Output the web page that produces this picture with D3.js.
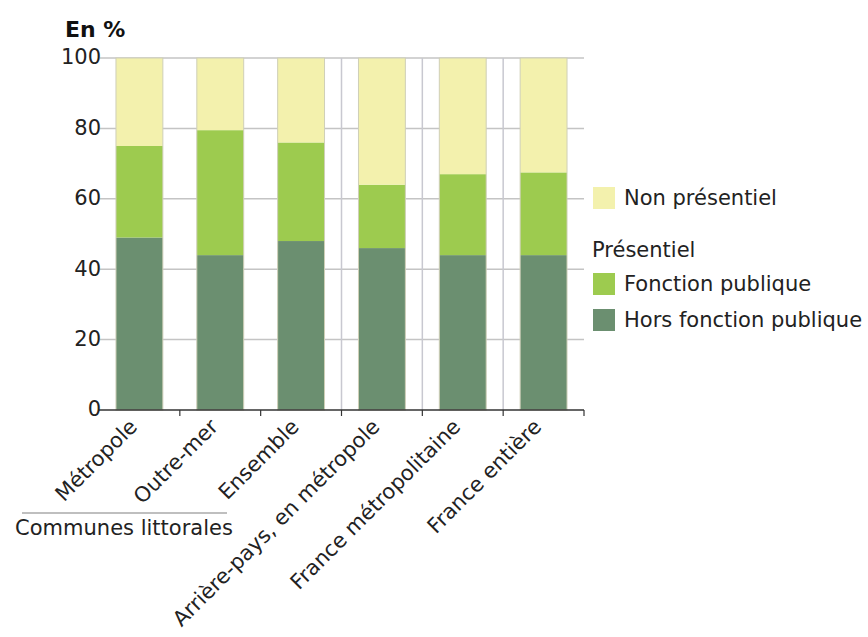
<!DOCTYPE html>
<head>
    <meta charset="utf-8">
    <script src="https://cdn.jsdelivr.net/npm/d3@7/dist/d3.min.js"></script>
    <style>
        body { margin: 0; background: #fff; }
        svg { display: block; font-family: "DejaVu Sans", Verdana, sans-serif; }
        .tick-label { font-size: 21px; fill: #222; }
        .legend { font-size: 21px; fill: #222; }
    </style>
</head>
<body>
    <script>
        // donnees (en %)
        var categories = ["Métropole", "Outre-mer", "Ensemble", "Arrière-pays, en métropole", "France métropolitaine", "France entière"];
        var horsFonctionPublique = [49, 44, 48, 46, 44, 44];
        var fonctionPublique = [26, 35.5, 28, 18, 23, 23.5];
        var nonPresentiel = [25, 20.5, 24, 36, 33, 32.5];
        var yTicks = [0, 20, 40, 60, 80, 100];

        var colors = {
            hors: "#6b8f70",
            fp: "#9dcb4f",
            non: "#f3f1ad"
        };

        var svg = d3.select("body").append("svg")
            .attr("width", 868)
            .attr("height", 637);

        var x = d3.scaleBand()
            .domain(categories)
            .range([99, 584])
            .paddingInner(0.42)
            .paddingOuter(0.21);

        var y = d3.scaleLinear()
            .domain([0, 100])
            .range([410, 58]);

        // grille horizontale
        svg.selectAll(".hgrid").data(yTicks.slice(1)).enter()
            .append("line")
            .attr("x1", 100).attr("x2", 584)
            .attr("y1", function (d) { return y(d); })
            .attr("y2", function (d) { return y(d); })
            .attr("stroke", "#c4c4c4").attr("stroke-width", 1.5);

        // separations verticales entre groupes
        var bounds = categories.map(function (c) {
            return x(c) + x.bandwidth() / 2 - x.step() / 2;
        });
        bounds.push(x.range()[1]);

        svg.selectAll(".vgrid").data(bounds.slice(3, 6)).enter()
            .append("line")
            .attr("x1", function (d) { return d; })
            .attr("x2", function (d) { return d; })
            .attr("y1", y(100)).attr("y2", y(0))
            .attr("stroke", "#c8c8d0").attr("stroke-width", 1.5);

        var rows = categories.map(function (c, i) {
            return { cat: c, hors: horsFonctionPublique[i], fp: fonctionPublique[i], non: nonPresentiel[i] };
        });
        var stack = d3.stack().keys(["hors", "fp", "non"])(rows);

        svg.selectAll(".serie").data(stack).enter()
            .append("g")
            .attr("fill", function (d) { return colors[d.key]; })
            .selectAll("rect").data(function (d) { return d; }).enter()
            .append("rect")
            .attr("x", function (d) { return x(d.data.cat); })
            .attr("width", x.bandwidth())
            .attr("y", function (d) { return y(d[1]); })
            .attr("height", function (d) { return y(d[0]) - y(d[1]); });

        // contour gris discret des barres
        svg.selectAll(".outline").data(categories).enter()
            .append("rect")
            .attr("x", function (d) { return x(d); })
            .attr("width", x.bandwidth())
            .attr("y", y(100))
            .attr("height", y(0) - y(100))
            .attr("fill", "none")
            .attr("stroke", "#cfcfb8").attr("stroke-width", 1);

        // axe des abscisses
        svg.append("line")
            .attr("x1", 99).attr("x2", 584)
            .attr("y1", y(0)).attr("y2", y(0))
            .attr("stroke", "#333").attr("stroke-width", 1.5);

        svg.selectAll(".xtick").data(bounds.slice(1)).enter()
            .append("line")
            .attr("x1", function (d) { return d; })
            .attr("x2", function (d) { return d; })
            .attr("y1", y(0)).attr("y2", y(0) + 6)
            .attr("stroke", "#333").attr("stroke-width", 1.2);

        // libelles axe y
        svg.selectAll(".ylab").data(yTicks).enter()
            .append("text")
            .attr("class", "tick-label")
            .attr("x", 101)
            .attr("y", function (d) { return y(d); })
            .attr("dy", "0.3em")
            .attr("text-anchor", "end")
            .text(function (d) { return d; });

        svg.append("text")
            .attr("x", 65).attr("y", 37)
            .attr("font-size", 22).attr("font-weight", "bold").attr("fill", "#111")
            .text("En %");

        // libelles categories inclines
        svg.selectAll(".xlab").data(categories).enter()
            .append("text")
            .attr("class", "tick-label")
            .attr("text-anchor", "end")
            .attr("transform", function (d) {
                return "translate(" + (x(d) + x.bandwidth() / 2 - 1) + "," + 428 + ") rotate(-45)";
            })
            .text(function (d) { return d; });

        // regroupement communes littorales
        svg.append("line")
            .attr("x1", 22).attr("x2", 227)
            .attr("y1", 513).attr("y2", 513)
            .attr("stroke", "#aaa").attr("stroke-width", 1.5);
        svg.append("text")
            .attr("class", "tick-label")
            .attr("x", 124).attr("y", 535)
            .attr("text-anchor", "middle")
            .text("Communes littorales");

        // legende
        var legend = svg.append("g").attr("class", "legend");
        var items = [
            { label: "Non présentiel", color: colors.non, y: 187 },
            { label: "Fonction publique", color: colors.fp, y: 273 },
            { label: "Hors fonction publique", color: colors.hors, y: 309 }
        ];
        legend.selectAll("rect").data(items).enter()
            .append("rect")
            .attr("x", 593).attr("y", function (d) { return d.y; })
            .attr("width", 22).attr("height", 22)
            .attr("fill", function (d) { return d.color; });
        legend.selectAll("text").data(items).enter()
            .append("text")
            .attr("class", "legend")
            .attr("x", 624).attr("y", function (d) { return d.y + 18; })
            .text(function (d) { return d.label; });
        legend.append("text")
            .attr("class", "legend")
            .attr("x", 592).attr("y", 257)
            .text("Présentiel");
    </script>
</body>
